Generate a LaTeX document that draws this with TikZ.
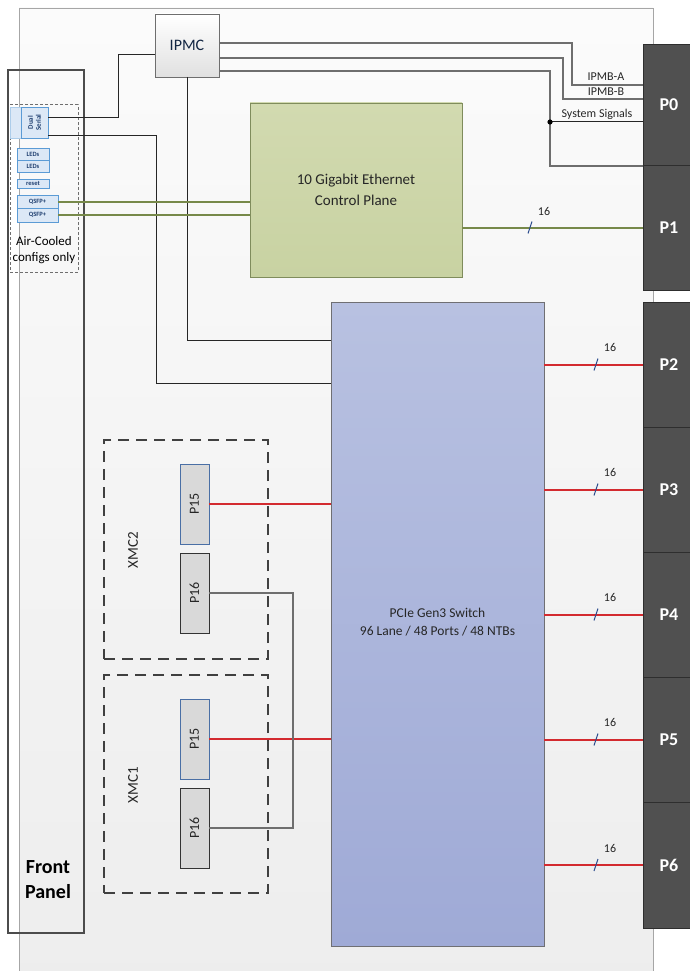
\documentclass[tikz,border=0pt]{standalone}
\usepackage{fontspec}
\setmainfont{Carlito}
\usetikzlibrary{calc}
\definecolor{boardtop}{HTML}{FBFBFB}
\definecolor{boardbot}{HTML}{EDEDED}
\definecolor{boardln}{HTML}{A6A6A6}
\definecolor{gbeF}{HTML}{D2DAB0}
\definecolor{gbeF2}{HTML}{C8D2A2}
\definecolor{gbeB}{HTML}{7F8C5C}
\definecolor{swT}{HTML}{B8C1E1}
\definecolor{swB}{HTML}{9FAAD6}
\definecolor{swL}{HTML}{6F6F73}
\definecolor{conF}{HTML}{505050}
\definecolor{conB}{HTML}{2E2E2E}
\definecolor{oliveL}{HTML}{77894A}
\definecolor{redL}{HTML}{D32A2F}
\definecolor{smallF}{HTML}{DCE8F6}
\definecolor{smallB}{HTML}{5B9BD5}
\definecolor{smallT}{HTML}{1F3F70}
\definecolor{txt}{HTML}{262626}
\definecolor{slashC}{HTML}{2F4F8F}
\definecolor{greyL}{HTML}{6E6E6E}
\definecolor{p15B}{HTML}{4A6FA5}
\definecolor{xmcD}{HTML}{404040}
\begin{document}
\begin{tikzpicture}[x=1pt,y=-1pt,
  every node/.style={inner sep=0pt, outer sep=0pt, text=txt},
  rbox/.style={anchor=north west},
  ipmcbox/.style={rbox, draw=greyL, line width=0.8pt, top color=white, bottom color=black!12, font=\fontsize{16}{18}\selectfont, text=smallT!60!black},
  gbebox/.style={rbox, draw=gbeB, line width=0.8pt, top color=gbeF, bottom color=gbeF2, align=center, font=\fontsize{15}{21}\selectfont},
  swbox/.style={rbox, draw=swL, line width=0.8pt, top color=swT, bottom color=swB, align=center, font=\fontsize{13.5}{18}\selectfont},
  conbox/.style={rbox, draw=conB, fill=conF, line width=1pt, minimum width=52pt, text=white, font=\fontsize{18}{20}\selectfont\bfseries},
  smallbox/.style={rbox, draw=smallB, fill=smallF, line width=0.6pt, text=smallT, font=\fontsize{6.5}{7}\selectfont\bfseries},
  pinbox/.style={rbox, fill=black!15, line width=0.9pt, minimum width=29pt, minimum height=80pt, font=\fontsize{14}{16}\selectfont},
  xmcbox/.style={rbox, draw=xmcD, line width=2.2pt, dash pattern=on 11pt off 7pt, minimum width=164pt},
  blk/.style={draw=black!85, line width=0.8pt},
  gry/.style={draw=greyL, line width=1.4pt},
  oliv/.style={draw=oliveL, line width=2pt},
  redl/.style={draw=redL, line width=2pt},
  slash/.style={draw=slashC, line width=1pt},
  buslbl/.style={font=\fontsize{12}{14}\selectfont},
  lbl/.style={font=\fontsize{12}{14}\selectfont}
]
\useasboundingbox (0,0) rectangle (689,971);
% board
\node[rbox, top color=boardtop, bottom color=boardbot, draw=boardln, line width=0.9pt, minimum width=634pt, minimum height=990pt] (board) at (19,8) {};

% front panel
\node[rbox, draw=black!70, line width=1.8pt, minimum width=76pt, minimum height=863pt] (fp) at (8,70) {};
\node[font=\fontsize{20}{25}\selectfont\bfseries, align=center, text=black] (fptxt) at (48,880) {Front\\Panel};
\node[rbox, draw=greyL, line width=1pt, dash pattern=on 3pt off 2pt, minimum width=68pt, minimum height=167pt] (aircool) at (10,105) {};
\node[font=\fontsize{13}{16.5}\selectfont, align=center, text=black] (airtxt) at (44,250) {Air-Cooled\\configs only};

% small front-panel items
\node[smallbox, draw=smallB!50, minimum width=11pt, minimum height=31pt] (dsback) at (10,107) {};
\node[smallbox, minimum width=27pt, minimum height=31pt] (ds) at (21,107) {};
\node[rotate=90, text=smallT, font=\fontsize{7}{8}\selectfont\bfseries, align=center] (dstxt) at (ds.center) {Dual\\Serial};
\node[smallbox, minimum width=32pt, minimum height=12pt] (led1) at (17,148) {LEDs};
\node[smallbox, minimum width=32pt, minimum height=12pt] (led2) at (17,160) {LEDs};
\node[smallbox, minimum width=32pt, minimum height=9pt] (rst) at (17,179) {reset};
\node[smallbox, minimum width=41pt, minimum height=13pt] (q1) at (17,195) {QSFP+};
\node[smallbox, minimum width=41pt, minimum height=14pt] (q2) at (17,208) {QSFP+};

% IPMC
\node[ipmcbox, minimum width=64pt, minimum height=63pt] (ipmc) at (155,14) {IPMC};

% GbE
\node[gbebox, minimum width=212pt, minimum height=174pt] (gbe) at (250,103) {};
\node[font=\fontsize{15}{21}\selectfont, align=center] (gbetxt) at (356,190) {10 Gigabit Ethernet\\Control Plane};

% switch
\node[swbox, minimum width=213pt, minimum height=644pt] (sw) at (331,302) {};
\node[font=\fontsize{13.5}{18}\selectfont, align=center] (swtxt) at (437.5,622) {PCIe Gen3 Switch\\96 Lane / 48 Ports / 48 NTBs};

% connectors
\node[conbox, minimum height=120pt] (p0) at (643,45) {};
\node[conbox, minimum height=125pt] (p1) at (643,165) {};
\node[conbox, minimum height=125pt] (p2) at (643,302) {};
\node[conbox, minimum height=125pt] (p3) at (643,427) {};
\node[conbox, minimum height=125pt] (p4) at (643,552) {};
\node[conbox, minimum height=125pt] (p5) at (643,677) {};
\node[conbox, minimum height=126pt] (p6) at (643,802) {};
\foreach \n in {0,...,6} {
  \node[text=white, font=\fontsize{18}{20}\selectfont\bfseries] (p\n txt) at ($(p\n.center)$) {P\n};
}

% XMC boxes
\node[xmcbox, minimum height=219pt] (xmc2) at (104,440) {};
\node[xmcbox, minimum height=218pt] (xmc1) at (104,675) {};
\node[rotate=90, font=\fontsize{15}{17}\selectfont] (xmc2txt) at (133,550) {XMC2};
\node[rotate=90, font=\fontsize{15}{17}\selectfont] (xmc1txt) at (133,785) {XMC1};
\node[pinbox, draw=p15B] (x2p15) at (180,464) {};
\node[pinbox, draw=black!80] (x2p16) at (180,553) {};
\node[pinbox, draw=p15B] (x1p15) at (180,699) {};
\node[pinbox, draw=black!80] (x1p16) at (180,788) {};
\foreach \a/\t in {x2p15/P15, x2p16/P16, x1p15/P15, x1p16/P16} {
  \node[rotate=90, font=\fontsize{14}{16}\selectfont] at (\a.center) {\t};
}

% serial / IPMC wiring
\draw[blk] (ds.east |- 0,117) -| (118,54) -- (ipmc.west |- 0,54);
\draw[blk] (ds.east |- 0,135) -| (156,383) -- (sw.west |- 0,383);
\draw[blk] (ipmc.south) |- (sw.west |- 0,340);

\draw[gry] (ipmc.east |- 0,43) -| (572,85) -- (p0.west |- 0,85);
\draw[gry] (ipmc.east |- 0,58) -| (563,99) -- (p0.west |- 0,99);
\draw[gry] (ipmc.east |- 0,71) -| (550,166) -- (p0.west |- 0,166);
\coordinate (sysdot) at (550,122);
\draw[blk, line width=1pt] (sysdot) -- (p0.west |- sysdot);
\fill[black] (sysdot) circle (2.6pt);
\node[lbl] (ipmba) at (606,77) {IPMB-A};
\node[lbl] (ipmbb) at (606,92) {IPMB-B};
\node[lbl] (syssig) at (597,114) {System Signals};

% QSFP to GbE
\draw[oliv] (q1.east) -- (gbe.west |- q1.east);
\draw[oliv] (q2.east) -- (gbe.west |- q2.east);
% GbE to P1
\draw[oliv] (gbe.east |- p1.west) -- (p1.west);
\coordinate (s1) at (530,227.5);
\draw[slash] ($(s1)+(-2,6)$) -- ($(s1)+(2,-6)$);
\node[buslbl] at ($(s1)+(14,-16)$) {16};

% switch to P2..P6
\foreach \n in {2,...,6} {
  \draw[redl] (sw.east |- p\n.west) -- (p\n.west);
  \coordinate (s\n) at ($(p\n.west)+(-47,0)$);
  \draw[slash] ($(s\n)+(-2,6)$) -- ($(s\n)+(2,-6)$);
  \node[buslbl] at ($(s\n)+(14,-17)$) {16};
}

% XMC wiring
\draw[redl] (x2p15.east) -- (sw.west |- x2p15.east);
\draw[redl] (x1p15.east) -- (sw.west |- x1p15.east);
\coordinate (loopx) at (293,0);
\draw[draw=greyL, line width=1.2pt] (x2p16.east) -- (x2p16.east -| loopx) -- (x1p16.east -| loopx) -- (x1p16.east);
\end{tikzpicture}
\end{document}
